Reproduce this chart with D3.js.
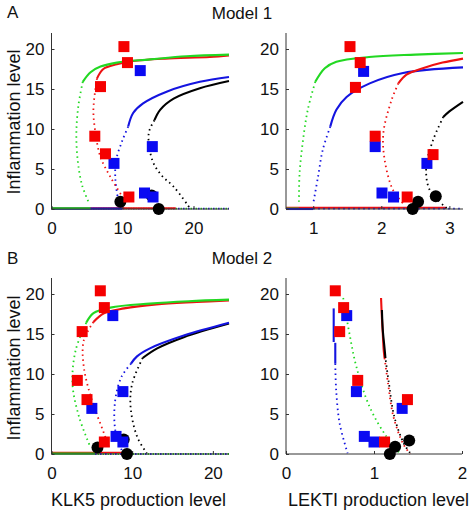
<!DOCTYPE html>
<html><head><meta charset="utf-8">
<script src="https://cdn.jsdelivr.net/npm/d3@7"></script>
<style>body{margin:0;background:#fff}svg{display:block}text{font-family:"Liberation Sans",Arial,Helvetica,sans-serif;fill:#111}</style>
</head><body>
<svg id="c" width="476" height="517"></svg>
<script>
// ---------- tick labels ----------
const yTicks = [0, 5, 10, 15, 20];
const xTicksA1 = [0, 10, 20];
const xTicksA2 = [1, 2, 3];
const xTicksB1 = [0, 10, 20];
const xTicksB2 = [0, 1, 2];

// ---------- Panel A left (Model 1, KLK5) ----------
const a1GreenUpper = [[4.4,15.9],[5.5,17.1],[6.9,17.8],[9.2,18.3],[13.9,18.7],[19,19.1],[25,19.3]];
const a1GreenMiddle = [[4.4,15.9],[3.8,13],[3.5,9.5],[3.7,6],[4.3,3],[5.2,0.9]];
const a1RedUpper = [[6.4,16.3],[7.3,17.5],[9.2,18.1],[11.5,18.5],[16,18.8],[22.3,19.0],[25,19.2]];
const a1RedMiddle = [[6.4,16.3],[5.9,12.4],[6.2,9.5],[6.9,6.5],[8.3,4.0],[10.0,1.5]];
const a1BlueUpper = [[10.8,10.3],[11.5,12.0],[12.9,13.2],[16.3,14.7],[20.9,15.9],[25,16.5]];
const a1BlueMiddle = [[10.8,10.3],[10.0,8.6],[9.1,6.1],[9.0,3.6],[9.4,1.1]];
const a1BlackUpper = [[14.5,11.1],[15.3,12.4],[17.2,13.8],[20.9,15.1],[25,16.0]];
const a1BlackMiddle = [[14.5,11.1],[13.7,9.5],[14.2,6.1],[15.5,4.2],[17.2,2.8],[19.5,0.1]];
const a1RedLower = [[0,0.1],[17.5,0.1]];
const a1BlueLower = [[0,0.05],[10,0.05]];
const a1GreenLower = [[0,0.1],[5.5,0.1]];
const a1DottedLower = [[5.5,0.05],[25,0.05]];
const a1RedSquares = [[10.2,20.3],[10.7,18.3],[6.9,15.3],[6.1,9.1],[7.6,6.9],[10.9,1.5]];
const a1BlueSquares = [[12.5,17.3],[14.2,7.8],[8.8,5.7],[13.1,2.0],[14.3,1.5]];
const a1BlackCircles = [[9.7,0.9],[14.1,1.7],[15.1,0.0]];

// ---------- Panel A right (Model 1, LEKTI) ----------
const a2GreenUpper = [[1.03,15.9],[1.17,17.6],[1.34,18.4],[1.82,19.0],[2.5,19.3],[3.2,19.5]];
const a2GreenMiddle = [[1.03,15.9],[0.92,12.4],[0.85,8.6],[0.8,4.5],[0.79,0.9]];
const a2BlueUpper = [[1.25,10.3],[1.34,12.4],[1.49,14.0],[1.83,15.7],[2.32,17.0],[3.2,17.7]];
const a2BlueMiddle = [[1.25,10.3],[1.14,7.4],[1.07,4.0],[1.0,0.7]];
const a2RedUpper = [[2.25,15.7],[2.37,16.8],[2.61,17.6],[2.9,18.3],[3.2,18.8]];
const a2RedMiddle = [[2.25,15.7],[2.15,13.6],[2.03,9.5],[2.05,6.1],[2.17,2.4],[2.32,0.7]];
const a2BlackUpper = [[2.91,11.5],[3.0,12.2],[3.2,13.4]];
const a2BlackMiddle = [[2.91,11.5],[2.76,8.6],[2.66,5.3],[2.71,2.4],[2.96,0.1]];
const a2RedLower = [[0.6,0.15],[2.95,0.15]];
const a2GreenLower = [[0.6,0.05],[0.79,0.05]];
const a2BlueLower = [[0.6,0.0],[1.0,0.0]];
const a2DottedLower = [[1.0,0.05],[3.2,0.05]];
const a2RedSquares = [[1.54,20.3],[1.69,18.3],[1.62,15.2],[1.91,9.1],[2.38,1.5],[2.76,6.8]];
const a2BlueSquares = [[1.74,17.2],[1.91,7.8],[2.01,2.0],[2.18,1.5],[2.67,5.7]];
const a2BlackCircles = [[2.46,0.0],[2.54,0.9],[2.8,1.6]];

// ---------- Panel B left (Model 2, KLK5) ----------
const b1GreenUpper = [[4.3,16.4],[5.2,17.6],[7.3,18.3],[12.2,18.8],[17,19.1],[22,19.3]];
const b1GreenMiddle = [[4.3,16.4],[3.0,13],[2.6,8.8],[3.4,4.7],[4.8,0.9]];
const b1RedUpper = [[5.2,16.5],[6.5,17.6],[9,18.2],[13,18.7],[18,19.0],[22,19.2]];
const b1RedMiddle = [[5.2,16.5],[4.0,14.2],[4.0,10.9],[5.0,6.75],[6.5,2.6],[7.1,0.9]];
const b1BlueUpper = [[9.85,11.3],[10.6,12.2],[12.2,13.2],[16.4,14.8],[22,16.4]];
const b1BlueMiddle = [[9.85,11.3],[8.7,9.7],[7.9,6.75],[7.9,3.0],[8.7,0.5]];
const b1BlackUpper = [[11.3,12.0],[13.1,13.2],[16.4,14.6],[22,16.3]];
const b1BlackMiddle = [[11.3,12.0],[10.0,8.8],[9.8,5.9],[10.6,2.2],[11.8,0.1]];
const b1RedLower = [[0,0.15],[8.9,0.15]];
const b1GreenLower = [[0,0.05],[5.4,0.05]];
const b1DottedLower = [[5.4,0.0],[22,0.0]];
const b1RedSquares = [[6.05,20.4],[6.55,18.3],[3.8,15.3],[3.2,9.2],[4.4,6.8],[6.55,1.5]];
const b1BlueSquares = [[7.6,17.3],[8.85,7.8],[5.0,5.7],[8.0,2.2],[8.85,1.5]];
const b1BlackCircles = [[5.7,0.8],[8.95,1.8],[9.35,0.0]];

// ---------- Panel B right (Model 2, LEKTI) ----------
const b2BlueUpperA = [[0.542,18.2],[0.542,14.0]];
const b2BlueUpperB = [[0.56,13.9],[0.56,11.3]];
const b2BlueMiddle = [[0.56,11.3],[0.57,8.0],[0.61,3.8],[0.70,0.1]];
const b2GreenMiddle = [[0.65,19.5],[0.72,15.1],[0.80,10.9],[0.95,5.9],[1.14,2.2],[1.30,0.0]];
const b2RedUpper = [[1.08,19.5],[1.09,17.0],[1.10,15.0],[1.11,13.0],[1.12,12.0]];
const b2BlackUpper = [[1.09,18.0],[1.10,15.5],[1.12,13.2],[1.13,12.0]];
const b2RedMiddle = [[1.12,12.0],[1.16,8.8],[1.22,4.7],[1.33,1.3],[1.41,0.0]];
const b2BlackMiddle = [[1.13,12.0],[1.17,8.8],[1.23,4.7],[1.34,1.3],[1.42,0.0]];
const b2RedSquares = [[0.56,20.4],[0.655,18.3],[0.61,15.3],[0.815,9.2],[1.12,1.5],[1.38,6.8]];
const b2BlueSquares = [[0.69,17.3],[0.80,7.8],[0.89,2.2],[1.0,1.5],[1.32,5.7]];
const b2BlackCircles = [[1.18,0.0],[1.24,0.9],[1.40,1.7]];

// ---------- colours ----------
const GREEN = "#22d822", RED = "#ee1111", BLUE = "#1414e0", BLACK = "#000000";
const SQ_RED = "#f50000", SQ_BLUE = "#0a0af2";

const svg = d3.select("#c");

function panel(cfg){
  const x = d3.scaleLinear().domain(cfg.xDomain).range(cfg.xRange);
  const y = d3.scaleLinear().domain([0,22]).range(cfg.yRange);
  const g = svg.append("g");
  const line = d3.line().x(d=>x(d[0])).y(d=>y(d[1])).curve(d3.curveCatmullRom.alpha(0.5));

  function draw(data, color, dotted, off){
    g.append("path").datum(data).attr("d", line)
      .attr("fill","none").attr("stroke",color)
      .attr("stroke-width", dotted ? 1.8 : 2.1)
      .attr("stroke-dasharray", dotted ? "1.5,3.5" : null)
      .attr("stroke-dashoffset", off || 0)
      .attr("stroke-linecap","butt").attr("stroke-linejoin","round");
  }
  cfg.curves.forEach(c => draw(c.data, c.color, c.dotted, c.off));

  // axes (box off, ticks inward)
  const xa = d3.axisBottom(x).tickValues(cfg.xTicks).tickSize(-3).tickPadding(9).tickFormat(d3.format("d"));
  const ya = d3.axisLeft(y).tickValues(yTicks).tickSize(-3).tickPadding(7).tickFormat(d3.format("d"));
  const gx = g.append("g").attr("transform",`translate(0,${cfg.yRange[0]})`).call(xa);
  const gy = g.append("g").attr("transform",`translate(${cfg.xRange[0]},0)`).call(ya);
  [gx, gy].forEach(a => {
    a.select(".domain").attr("stroke","#333").attr("stroke-width",1);
    a.selectAll(".tick line").attr("stroke","#333");
    a.selectAll("text").attr("font-size",17).attr("fill","#111")
      .style("font-family",'"Liberation Sans",Arial,sans-serif');
  });
  gx.selectAll("text").attr("dy","0.95em");
  gy.select(".domain").attr("d", `M0,${cfg.yRange[0]}V${cfg.yRange[1]}`);
  gx.select(".domain").attr("d", `M${cfg.xRange[0]},0H${cfg.xRange[1]}`);

  const mk = g.append("g");
  const sq = 11;
  function squares(data, color){
    mk.selectAll(null).data(data).enter().append("rect")
      .attr("x", d=>x(d[0])-sq/2).attr("y", d=>y(d[1])-sq/2)
      .attr("width", sq).attr("height", sq).attr("fill", color);
  }
  function circles(data){
    mk.selectAll(null).data(data).enter().append("circle")
      .attr("cx", d=>x(d[0])).attr("cy", d=>y(d[1])).attr("r", 6).attr("fill", BLACK);
  }
  if (!cfg.circlesOnTop) circles(cfg.circles);
  squares(cfg.blueSq, SQ_BLUE);
  squares(cfg.redSq, SQ_RED);
  if (cfg.circlesOnTop) circles(cfg.circles);
}

const D = true, S = false;
panel({
  xDomain:[0,25], xRange:[51.5,229], yRange:[209,33], xTicks:xTicksA1,
  curves:[
    {data:a1DottedLower,color:GREEN,dotted:D,off:0},
    {data:a1DottedLower,color:BLUE,dotted:D,off:2.5},
    {data:a1RedLower,color:RED,dotted:S},
    {data:a1BlueLower,color:BLUE,dotted:S},
    {data:a1GreenLower,color:GREEN,dotted:S},
    {data:a1BlackMiddle,color:BLACK,dotted:D},
    {data:a1BlueMiddle,color:BLUE,dotted:D},
    {data:a1RedMiddle,color:RED,dotted:D},
    {data:a1GreenMiddle,color:GREEN,dotted:D},
    {data:a1BlackUpper,color:BLACK,dotted:S},
    {data:a1BlueUpper,color:BLUE,dotted:S},
    {data:a1RedUpper,color:RED,dotted:S},
    {data:a1GreenUpper,color:GREEN,dotted:S}
  ],
  redSq:a1RedSquares, blueSq:a1BlueSquares, circles:a1BlackCircles, circlesOnTop:false
});
panel({
  xDomain:[0.6,3.2], xRange:[286,463], yRange:[209,33], xTicks:xTicksA2,
  curves:[
    {data:a2RedLower,color:RED,dotted:S},
    {data:a2DottedLower,color:BLUE,dotted:D,off:0},
    {data:a2GreenLower,color:GREEN,dotted:S},
    {data:a2BlueLower,color:BLUE,dotted:S},
    {data:a2BlackMiddle,color:BLACK,dotted:D},
    {data:a2RedMiddle,color:RED,dotted:D},
    {data:a2BlueMiddle,color:BLUE,dotted:D},
    {data:a2GreenMiddle,color:GREEN,dotted:D},
    {data:a2BlackUpper,color:BLACK,dotted:S},
    {data:a2BlueUpper,color:BLUE,dotted:S},
    {data:a2RedUpper,color:RED,dotted:S},
    {data:a2GreenUpper,color:GREEN,dotted:S}
  ],
  redSq:a2RedSquares, blueSq:a2BlueSquares, circles:a2BlackCircles, circlesOnTop:false
});
panel({
  xDomain:[0,22], xRange:[51.5,229], yRange:[454,278], xTicks:xTicksB1,
  curves:[
    {data:b1RedLower,color:RED,dotted:S},
    {data:b1DottedLower,color:BLUE,dotted:D,off:0},
    {data:b1DottedLower,color:GREEN,dotted:D,off:2.5},
    {data:b1GreenLower,color:GREEN,dotted:S},
    {data:b1BlackMiddle,color:BLACK,dotted:D},
    {data:b1BlueMiddle,color:BLUE,dotted:D},
    {data:b1RedMiddle,color:RED,dotted:D},
    {data:b1GreenMiddle,color:GREEN,dotted:D},
    {data:b1BlackUpper,color:BLACK,dotted:S},
    {data:b1BlueUpper,color:BLUE,dotted:S},
    {data:b1RedUpper,color:RED,dotted:S},
    {data:b1GreenUpper,color:GREEN,dotted:S}
  ],
  redSq:b1RedSquares, blueSq:b1BlueSquares, circles:b1BlackCircles, circlesOnTop:false
});
panel({
  xDomain:[0,2], xRange:[286,462], yRange:[454,278], xTicks:xTicksB2,
  curves:[
    {data:b2BlueMiddle,color:BLUE,dotted:D},
    {data:b2GreenMiddle,color:GREEN,dotted:D},
    {data:b2RedMiddle,color:RED,dotted:D,off:0},
    {data:b2BlackMiddle,color:BLACK,dotted:D,off:2.5},
    {data:b2BlueUpperA,color:BLUE,dotted:S},
    {data:b2BlueUpperB,color:BLUE,dotted:S},
    {data:b2RedUpper,color:RED,dotted:S},
    {data:b2BlackUpper,color:BLACK,dotted:S}
  ],
  redSq:b2RedSquares, blueSq:b2BlueSquares, circles:b2BlackCircles, circlesOnTop:true
});

// ---------- texts ----------
const T = (x,y,s,size,anchor,rot) => {
  const t = svg.append("text").attr("x",x).attr("y",y).attr("font-size",size)
    .attr("text-anchor",anchor||"start").text(s);
  if (rot) t.attr("transform",`rotate(${rot},${x},${y})`);
};
T(7,18,"A",17);
T(242,18.5,"Model 1",17,"middle");
T(7,264,"B",17);
T(242,264,"Model 2",17,"middle");
T(20,122,"Inflammation level",18,"middle",-90);
T(20,368,"Inflammation level",18,"middle",-90);
T(138.5,506,"KLK5 production level",18,"middle");
T(378.5,506,"LEKTI production level",18,"middle");
</script>
</body></html>
